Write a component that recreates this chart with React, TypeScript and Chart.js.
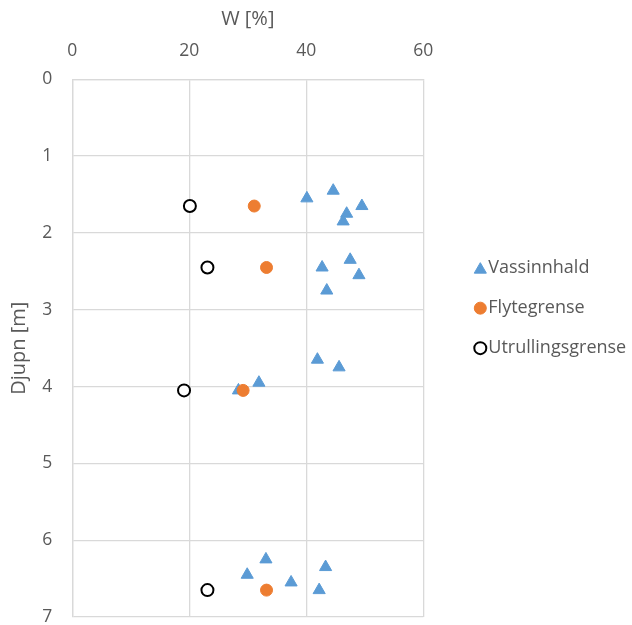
import React, { useEffect, useRef } from 'react';
import { Chart, registerables } from 'chart.js';

Chart.register(...registerables);

// ---- Data ----
const seriesNames = ['Vassinnhald', 'Flytegrense', 'Utrullingsgrense'];

const vassW = [40.1, 44.6, 49.5, 46.9, 46.3, 42.7, 47.5, 49.0, 43.5, 41.9, 45.6, 31.9, 28.4, 33.1, 43.3, 29.9, 37.4, 42.2];
const vassDepth = [1.55, 1.45, 1.65, 1.75, 1.85, 2.45, 2.35, 2.55, 2.75, 3.65, 3.75, 3.95, 4.05, 6.25, 6.35, 6.45, 6.55, 6.65];

const flytW = [31.1, 33.2, 29.2, 33.2];
const flytDepth = [1.65, 2.45, 4.05, 6.65];

const utrW = [20.1, 23.1, 19.1, 23.1];
const utrDepth = [1.65, 2.45, 4.05, 6.65];

const xTicks = [0, 20, 40, 60];
const yTicks = [0, 1, 2, 3, 4, 5, 6, 7];

const xTitle = 'W [%]';
const yTitle = 'Djupn [m]';

// ---- Styles ----
const FONT = '"Open Sans", "Noto Sans", sans-serif';
const TICK_SIZE = 17.5;
const TITLE_SIZE = 20;
const LEGEND_SIZE = 18;
const TEXT = '#595959';
const GRID = '#D9D9D9';
const BLUE = '#5B9BD5';
const ORANGE = '#ED7D31';

const toPoints = (xs: number[], ys: number[]) => xs.map((x, i) => ({ x, y: ys[i] }));

function drawMarker(ctx: CanvasRenderingContext2D, style: string, x: number, y: number, fill: string, stroke: string, lw: number) {
  ctx.save();
  ctx.beginPath();
  if (style === 'triangle') {
    const r = 7;
    ctx.moveTo(x, y - r);
    ctx.lineTo(x + r * Math.sin(Math.PI / 3), y + r / 2);
    ctx.lineTo(x - r * Math.sin(Math.PI / 3), y + r / 2);
    ctx.closePath();
  } else {
    ctx.arc(x, y, 6, 0, Math.PI * 2);
  }
  ctx.fillStyle = fill;
  ctx.fill();
  ctx.lineWidth = lw;
  ctx.strokeStyle = stroke;
  ctx.stroke();
  ctx.restore();
}

const sideLegend = {
  id: 'sideLegend',
  afterDraw(chart: any) {
    const { ctx, chartArea } = chart;
    const x = chartArea.right + 57;
    const midY = (chartArea.top + chartArea.bottom) / 2;
    chart.data.datasets.forEach((ds: any, i: number) => {
      const y = midY + (i - 2) * 40;
      drawMarker(ctx, ds.pointStyle, x, y + (ds.pointStyle === 'triangle' ? 1.5 : 0), ds.backgroundColor, ds.borderColor, ds.borderWidth);
      ctx.save();
      ctx.fillStyle = TEXT;
      ctx.font = `${LEGEND_SIZE}px ${FONT}`;
      ctx.textBaseline = 'middle';
      ctx.textAlign = 'left';
      ctx.fillText(ds.label, x + 8, y);
      ctx.restore();
    });
  },
};

export default function App() {
  const ref = useRef<HTMLCanvasElement | null>(null);

  useEffect(() => {
    if (!ref.current) return;
    const chart = new Chart(ref.current, {
      type: 'scatter',
      data: {
        datasets: [
          {
            label: seriesNames[0],
            data: toPoints(vassW, vassDepth),
            pointStyle: 'triangle',
            pointRadius: 7,
            backgroundColor: BLUE,
            borderColor: BLUE,
            borderWidth: 1,
            order: 2,
          },
          {
            label: seriesNames[1],
            data: toPoints(flytW, flytDepth),
            pointStyle: 'circle',
            pointRadius: 6,
            backgroundColor: ORANGE,
            borderColor: ORANGE,
            borderWidth: 1,
            order: 1,
          },
          {
            label: seriesNames[2],
            data: toPoints(utrW, utrDepth),
            pointStyle: 'circle',
            pointRadius: 6,
            backgroundColor: '#FFFFFF',
            borderColor: '#000000',
            borderWidth: 2,
            order: 0,
          },
        ] as any,
      },
      options: {
        responsive: false,
        animation: false,
        layout: { padding: { top: 0, left: 0, right: 208.7, bottom: 7.7 } },
        plugins: {
          legend: { display: false },
          tooltip: { enabled: false },
        },
        scales: {
          x: {
            type: 'linear',
            position: 'top',
            min: xTicks[0],
            max: xTicks[xTicks.length - 1],
            afterBuildTicks: (scale: any) => {
              scale.ticks = xTicks.map((v) => ({ value: v }));
            },
            afterFit: (scale: any) => {
              scale.height = 79.3;
              scale.paddingLeft = 0;
              scale.paddingRight = 0;
            },
            ticks: {
              color: TEXT,
              font: { family: FONT, size: TICK_SIZE },
              padding: 18,
            },
            grid: { color: GRID, lineWidth: 1.3, drawTicks: false },
            border: { color: GRID, width: 1.3 },
            title: {
              display: true,
              text: xTitle,
              color: TEXT,
              font: { family: FONT, size: TITLE_SIZE },
              padding: { top: 7.5, bottom: 0 },
            },
          },
          y: {
            type: 'linear',
            reverse: true,
            min: yTicks[0],
            max: yTicks[yTicks.length - 1],
            afterBuildTicks: (scale: any) => {
              scale.ticks = yTicks.map((v) => ({ value: v }));
            },
            afterFit: (scale: any) => {
              scale.width = 72.3;
              scale.paddingTop = 0;
              scale.paddingBottom = 0;
            },
            ticks: {
              color: TEXT,
              font: { family: FONT, size: TICK_SIZE },
              padding: 20,
            },
            grid: { color: GRID, lineWidth: 1.3, drawTicks: false },
            border: { color: GRID, width: 1.3 },
            title: {
              display: true,
              text: yTitle,
              color: TEXT,
              font: { family: FONT, size: TITLE_SIZE },
              padding: { top: 7, bottom: 0 },
            },
          },
        },
      } as any,
      plugins: [sideLegend],
    });
    return () => chart.destroy();
  }, []);

  return (
    <div style={{ position: 'fixed', left: 0, top: 0, width: 632, height: 625, background: '#ffffff' }}>
      <canvas ref={ref} width={632} height={625} style={{ display: 'block', width: 632, height: 625 }} />
    </div>
  );
}
